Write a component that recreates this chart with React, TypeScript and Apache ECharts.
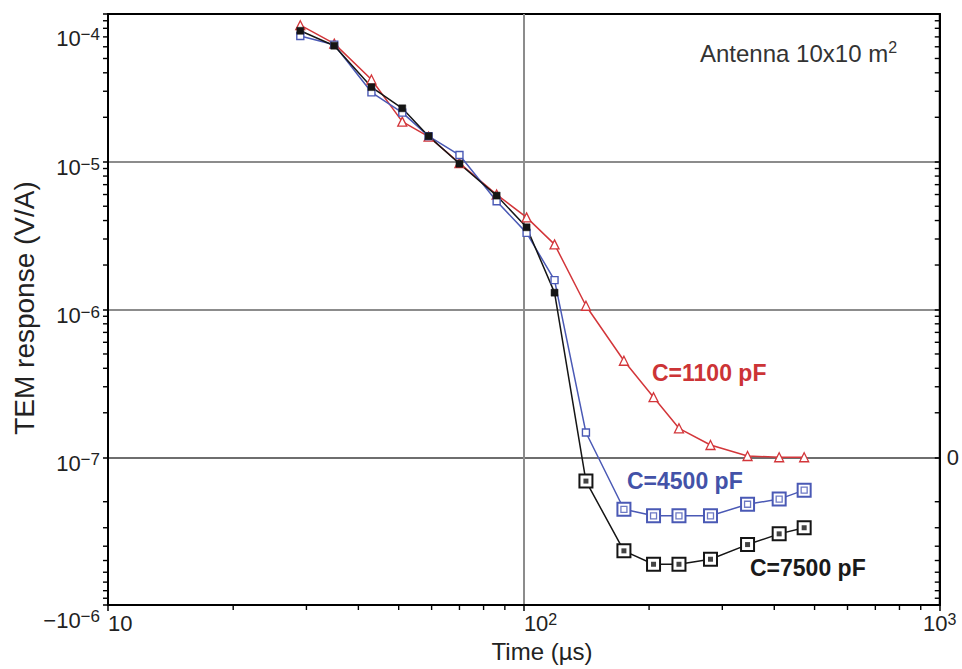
import React, { useEffect, useRef } from 'react';
import * as echarts from 'echarts';

// ---- data (time in µs, response in V/A; negative values are below the "0" line) ----
const timesUs = [29, 35, 43, 51, 59, 70, 86, 101.5, 118.5, 141, 174, 205, 236, 281, 345, 411, 472];
const c1100 = [8.4e-5, 6.3e-5, 3.6e-5, 1.87e-5, 1.48e-5, 9.8e-6, 6.0e-6, 4.2e-6, 2.76e-6, 1.06e-6, 4.5e-7, 2.55e-7, 1.57e-7, 1.21e-7, 1.02e-7, 1.0e-7, 1.0e-7];
const c4500 = [7.1e-5, 6.2e-5, 2.95e-5, 2.15e-5, 1.49e-5, 1.11e-5, 5.4e-6, 3.3e-6, 1.58e-6, 1.47e-7, -2.25e-7, -2.49e-7, -2.49e-7, -2.49e-7, -2.08e-7, -1.92e-7, -1.67e-7];
const c7500 = [7.7e-5, 6.1e-5, 3.2e-5, 2.3e-5, 1.49e-5, 9.7e-6, 5.9e-6, 3.6e-6, 1.3e-6, -1.45e-7, -4.3e-7, -5.3e-7, -5.3e-7, -4.9e-7, -3.9e-7, -3.3e-7, -3.0e-7];

// ---- axis ticks ----
const yTickPos = [-8, -7, -6, -5, -4];
const yTickBase = ['−10', '10', '10', '10', '10'];
const yTickExp = ['−6', '−7', '−6', '−5', '−4'];
const xTickExp = ['', '2', '3'];
const minorMultipliers = [2, 3, 4, 5, 6, 7, 8, 9];
const yPosDecades = [1e-7, 1e-6, 1e-5];
const yNegDecades = [-1e-7];
const xDecades = [10, 100];

const FONT = 'Liberation Sans, Arial, Helvetica, sans-serif';
const RED = '#d3363a';
const BLUE = '#4a59b5';
const BLACK = '#151515';

// symmetric-log style transform used by the chart's y scale
function tf(v: number) {
  return v > 0 ? Math.log10(v) : -14 - Math.log10(-v);
}

const yMinor: number[] = [];
for (const d of yPosDecades) for (const m of minorMultipliers) yMinor.push(tf(m * d));
for (const d of yNegDecades) for (const m of minorMultipliers) yMinor.push(tf(m * d));
const xMinor: number[] = [];
for (const d of xDecades) for (const m of minorMultipliers) xMinor.push(m * d);

function lineData(vals: number[], kind: 'red' | 'blue' | 'black') {
  return vals.map((v, i) => {
    const neg = v < 0;
    const item: any = { value: [timesUs[i], tf(v)] };
    if (kind === 'red') {
      item.symbol = 'triangle';
      item.symbolSize = 9;
      item.itemStyle = { color: '#fff', borderColor: RED, borderWidth: 1.3 };
    } else if (neg) {
      item.symbol = 'rect';
      item.symbolSize = 13;
      item.itemStyle = { color: '#fff', borderColor: kind === 'blue' ? BLUE : BLACK, borderWidth: 2 };
    } else {
      item.symbol = 'rect';
      item.symbolSize = 7;
      item.itemStyle = kind === 'blue'
        ? { color: '#fff', borderColor: BLUE, borderWidth: 1.4 }
        : { color: BLACK, borderColor: BLACK, borderWidth: 0.5 };
    }
    return item;
  });
}

function innerDots(vals: number[]) {
  const out: number[][] = [];
  vals.forEach((v, i) => { if (v < 0) out.push([timesUs[i], tf(v)]); });
  return out;
}

const textGraphics = [
  {
    type: 'text', x: 700, y: 53, z: 10,
    style: {
      text: '{a|Antenna 10x10 m}{s|2}', verticalAlign: 'middle', align: 'left',
      rich: {
        a: { fontSize: 24, lineHeight: 28, fill: '#333', fontFamily: FONT },
        s: { fontSize: 16, verticalAlign: 'top', fill: '#333', fontFamily: FONT },
      },
    },
  },
  {
    type: 'text', x: 652, y: 373, z: 10,
    style: { text: 'C=1100 pF', fill: '#cc3436', font: `bold 23px ${FONT}`, verticalAlign: 'middle', align: 'left' },
  },
  {
    type: 'text', x: 627, y: 481, z: 10,
    style: { text: 'C=4500 pF', fill: '#4352a8', font: `bold 23px ${FONT}`, verticalAlign: 'middle', align: 'left' },
  },
  {
    type: 'text', x: 750, y: 568, z: 10,
    style: { text: 'C=7500 pF', fill: '#1a1a1a', font: `bold 23px ${FONT}`, verticalAlign: 'middle', align: 'left' },
  },
  {
    type: 'text', x: 542, y: 651, z: 10,
    style: { text: 'Time (µs)', fill: '#222', font: `24px ${FONT}`, verticalAlign: 'middle', align: 'center' },
  },
  {
    type: 'text', x: 24, y: 308, rotation: Math.PI / 2, z: 10,
    style: { text: 'TEM response (V/A)', fill: '#222', font: `28px ${FONT}`, verticalAlign: 'middle', align: 'center' },
  },
];

export default function App() {
  const ref = useRef<HTMLDivElement>(null);
  useEffect(() => {
    if (!ref.current) return;
    const chart = echarts.init(ref.current, null, { renderer: 'svg' });
    const rich = {
      b: { fontSize: 22, lineHeight: 24, color: '#222', fontFamily: FONT },
      e: { fontSize: 17, verticalAlign: 'top', color: '#222', fontFamily: FONT },
      bm: { fontSize: 22, lineHeight: 24, padding: [18, 0, 0, 0], color: '#222', fontFamily: FONT },
      em: { fontSize: 17, lineHeight: 24, padding: [9, 0, 0, 0], verticalAlign: 'top', color: '#222', fontFamily: FONT },
      xe: { fontSize: 16, verticalAlign: 'top', color: '#222', fontFamily: FONT },
    };
    const option: any = {
      animation: false,
      backgroundColor: '#fff',
      grid: { left: 108, right: 22, top: 14, bottom: 64, show: true, borderColor: '#000', borderWidth: 2 },
      xAxis: {
        type: 'log', logBase: 10, min: 10, max: 1000,
        axisLine: { show: true, lineStyle: { color: '#000', width: 2 } },
        axisTick: { show: true, length: 6, lineStyle: { color: '#000', width: 1.5 } },
        axisLabel: {
          margin: 6, align: 'left', alignMaxLabel: 'center',
          formatter: (v: number) => {
            const k = Math.round(Math.log10(v)) - 1;
            return '{b|10}' + (xTickExp[k] ? '{xe|' + xTickExp[k] + '}' : '');
          },
          rich,
        },
        splitLine: { show: true, lineStyle: { color: ['transparent', '#8c8c8c', 'transparent'], width: 2 } },
      },
      yAxis: [
        {
          type: 'value', min: -8, max: -4, interval: 1,
          axisLine: { show: true, lineStyle: { color: '#000', width: 2 } },
          axisTick: { show: true, length: 5, lineStyle: { color: '#000', width: 1.5 } },
          axisLabel: {
            margin: 8, padding: [12, 0, 0, 0], verticalAlignMaxLabel: 'top',
            formatter: (v: number) => {
              const i = yTickPos.indexOf(Math.round(v));
              if (i < 0) return '';
              return i === 0
                ? '{bm|' + yTickBase[i] + '}{em|' + yTickExp[i] + '}'
                : '{b|' + yTickBase[i] + '}{e|' + yTickExp[i] + '}';
            },
            rich,
          },
          splitLine: { show: true, lineStyle: { color: ['transparent', '#6e6e6e', '#8c8c8c', '#8c8c8c', 'transparent'], width: 2 } },
        },
        {
          type: 'value', min: -8, max: -4, interval: 1, position: 'right',
          axisLine: { show: true, lineStyle: { color: '#000', width: 2 } },
          axisTick: { show: true, inside: true, length: 5, lineStyle: { color: '#000', width: 1.5 } },
          axisLabel: {
            margin: 7, color: '#222', fontSize: 22, fontFamily: FONT,
            formatter: (v: number) => (Math.round(v) === -7 ? '0' : ''),
          },
          splitLine: { show: false },
        },
      ],
      series: [
        {
          name: 'C=1100 pF', type: 'line', data: lineData(c1100, 'red'),
          lineStyle: { color: RED, width: 1.5 }, itemStyle: { color: RED }, z: 3,
        },
        {
          name: 'C=4500 pF', type: 'line', data: lineData(c4500, 'blue'),
          lineStyle: { color: BLUE, width: 1.5 }, itemStyle: { color: BLUE }, z: 3,
        },
        {
          name: 'C=7500 pF', type: 'line', data: lineData(c7500, 'black'),
          lineStyle: { color: BLACK, width: 1.5 }, itemStyle: { color: BLACK }, z: 3,
        },
        {
          type: 'scatter', data: innerDots(c4500), symbol: 'rect', symbolSize: 6, z: 4,
          itemStyle: { color: '#fff', borderColor: BLUE, borderWidth: 1.3 },
        },
        {
          type: 'scatter', data: innerDots(c7500), symbol: 'rect', symbolSize: 5, z: 4,
          itemStyle: { color: BLACK },
        },
      ],
      graphic: textGraphics,
    };
    chart.setOption(option);

    // minor ticks positioned through the chart's own scales
    const ticks: any[] = [];
    const pLeftTop = chart.convertToPixel({ gridIndex: 0 }, [10, -4]) as number[];
    const pRightBottom = chart.convertToPixel({ gridIndex: 0 }, [1000, -8]) as number[];
    if (pLeftTop && pRightBottom) {
      const xl = pLeftTop[0];
      const xr = pRightBottom[0];
      const yb = pRightBottom[1];
      for (const t of yMinor) {
        const p = chart.convertToPixel({ gridIndex: 0 }, [100, t]) as number[];
        const y = p[1];
        ticks.push({ type: 'rect', z: 20, silent: true, shape: { x: xl - 5, y: y - 0.7, width: 5, height: 1.4 }, style: { fill: '#000' } });
        ticks.push({ type: 'rect', z: 20, silent: true, shape: { x: xr - 5, y: y - 0.7, width: 5, height: 1.4 }, style: { fill: '#000' } });
      }
      for (const xv of xMinor) {
        const p = chart.convertToPixel({ gridIndex: 0 }, [xv, -6]) as number[];
        ticks.push({ type: 'rect', z: 20, silent: true, shape: { x: p[0] - 0.7, y: yb, width: 1.4, height: 5 }, style: { fill: '#000' } });
      }
    }
    chart.setOption({ graphic: [...textGraphics, ...ticks] });
    return () => chart.dispose();
  }, []);
  return <div ref={ref} style={{ position: 'fixed', left: 0, top: 0, width: 962, height: 669 }} />;
}
